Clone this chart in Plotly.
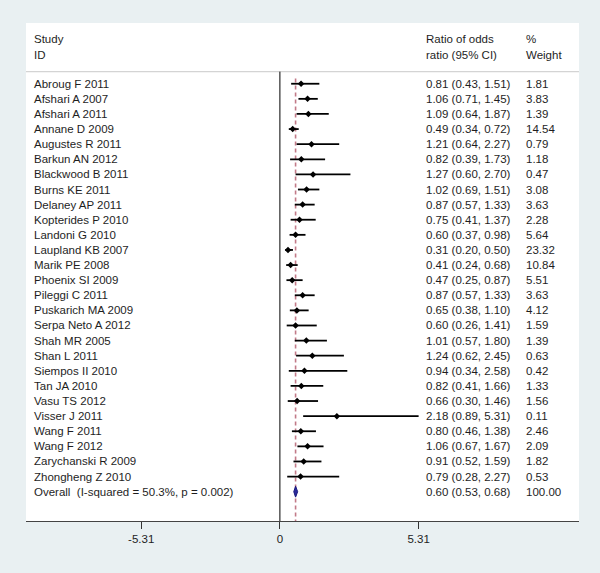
import plotly.graph_objects as go

studies = ["Abroug F 2011", "Afshari A 2007", "Afshari A 2011", "Annane D 2009", "Augustes R 2011",
           "Barkun AN 2012", "Blackwood B 2011", "Burns KE 2011", "Delaney AP 2011", "Kopterides P 2010",
           "Landoni G 2010", "Laupland KB 2007", "Marik PE 2008", "Phoenix SI 2009", "Pileggi C 2011",
           "Puskarich MA 2009", "Serpa Neto A 2012", "Shah MR 2005", "Shan L 2011", "Siempos II 2010",
           "Tan JA 2010", "Vasu TS 2012", "Visser J 2011", "Wang F 2011", "Wang F 2012",
           "Zarychanski R 2009", "Zhongheng Z 2010"]
or_est = [0.81, 1.06, 1.09, 0.49, 1.21, 0.82, 1.27, 1.02, 0.87, 0.75, 0.60, 0.31, 0.41, 0.47, 0.87,
          0.65, 0.60, 1.01, 1.24, 0.94, 0.82, 0.66, 2.18, 0.80, 1.06, 0.91, 0.79]
ci_lo = [0.43, 0.71, 0.64, 0.34, 0.64, 0.39, 0.60, 0.69, 0.57, 0.41, 0.37, 0.20, 0.24, 0.25, 0.57,
         0.38, 0.26, 0.57, 0.62, 0.34, 0.41, 0.30, 0.89, 0.46, 0.67, 0.52, 0.28]
ci_hi = [1.51, 1.45, 1.87, 0.72, 2.27, 1.73, 2.70, 1.51, 1.33, 1.37, 0.98, 0.50, 0.68, 0.87, 1.33,
         1.10, 1.41, 1.80, 2.45, 2.58, 1.66, 1.46, 5.31, 1.38, 1.67, 1.59, 2.27]
weights = [1.81, 3.83, 1.39, 14.54, 0.79, 1.18, 0.47, 3.08, 3.63, 2.28, 5.64, 23.32, 10.84, 5.51, 3.63,
           4.12, 1.59, 1.39, 0.63, 0.42, 1.33, 1.56, 0.11, 2.46, 2.09, 1.82, 0.53]
overall_label = "Overall\u00a0 (I-squared = 50.3%, p = 0.002)"
overall_est, overall_lo, overall_hi, overall_w = 0.60, 0.53, 0.68, 100.00
tick_vals = [-5.31, 0, 5.31]
tick_text = ["-5.31", "0", "5.31"]

FONT = "Arial, Liberation Sans, sans-serif"
FS = 11.5
TXT = "#1e1e1e"
BG = "#e9f0f2"

n = len(studies)
rows = list(range(n))
overall_row = n

fig = go.Figure()

# CI lines
xs, ys = [], []
for r, lo, hi in zip(rows, ci_lo, ci_hi):
    xs += [lo, hi, None]
    ys += [r, r, None]
fig.add_trace(go.Scatter(x=xs, y=ys, mode="lines", line=dict(color="black", width=1.8),
                         hoverinfo="skip", showlegend=False))
# point estimates
fig.add_trace(go.Scatter(x=or_est, y=rows, mode="markers",
                         marker=dict(symbol="diamond", size=5, color="black"),
                         showlegend=False))
# overall diamond
h = 0.36
fig.add_trace(go.Scatter(x=[overall_lo, overall_est, overall_hi, overall_est, overall_lo],
                         y=[overall_row, overall_row - h, overall_row, overall_row + h, overall_row],
                         mode="lines", fill="toself", fillcolor="#2a2a9a",
                         line=dict(color="#1a1a80", width=1), showlegend=False))

x_study, x_est, x_w = -9.5, 5.53, 9.33
ann = []
def add_text(x, y, t):
    ann.append(dict(x=x, y=y, xref="x", yref="y", text=t, showarrow=False, xanchor="left",
                    yanchor="middle", font=dict(family=FONT, size=FS, color=TXT)))

add_text(x_study, -2.98, "Study")
add_text(x_study, -1.92, "ID")
add_text(x_est, -2.98, "Ratio of odds")
add_text(x_est, -1.92, "ratio (95% CI)")
add_text(x_w, -2.98, "%")
add_text(x_w, -1.92, "Weight")
for r, s, e, lo, hi, w in zip(rows, studies, or_est, ci_lo, ci_hi, weights):
    add_text(x_study, r, s)
    add_text(x_est, r, f"{e:.2f} ({lo:.2f}, {hi:.2f})")
    add_text(x_w, r, f"{w:.2f}")
add_text(x_study, overall_row, overall_label)
add_text(x_est, overall_row, f"{overall_est:.2f} ({overall_lo:.2f}, {overall_hi:.2f})")
add_text(x_w, overall_row, f"{overall_w:.2f}")

y_top, y_bot = -4.02, 28.94
shapes = [
    dict(type="line", xref="paper", yref="y", x0=0, x1=1, y0=-0.8, y1=-0.8, layer="below",
         line=dict(color="#d4d4d4", width=1.2)),
    dict(type="line", xref="x", yref="y", x0=0, x1=0, y0=-0.8, y1=y_bot, layer="below",
         line=dict(color="black", width=1)),
    dict(type="line", xref="x", yref="y", x0=overall_est, x1=overall_est, y0=-0.35, y1=y_bot,
         layer="below", line=dict(color="#c27a88", width=1.6, dash="4px,3px")),
]

fig.update_layout(
    width=600, height=573,
    margin=dict(l=26, r=21, t=23, b=52),
    paper_bgcolor=BG, plot_bgcolor="white",
    annotations=ann, shapes=shapes, showlegend=False,
    xaxis=dict(range=[-9.72, 11.45], showgrid=False, zeroline=False,
               tickvals=tick_vals, ticktext=tick_text, ticks="outside", ticklen=7,
               tickcolor="#333333", tickwidth=1, showline=True, linecolor="#444444", linewidth=1,
               tickfont=dict(family=FONT, size=FS, color=TXT)),
    yaxis=dict(range=[y_bot, y_top], visible=False),
)
fig.write_html("out.html", config={"displayModeBar": False},
               post_script=f"document.body.style.margin='0';document.body.style.background='{BG}';"
                           "document.body.style.overflow='hidden';")
